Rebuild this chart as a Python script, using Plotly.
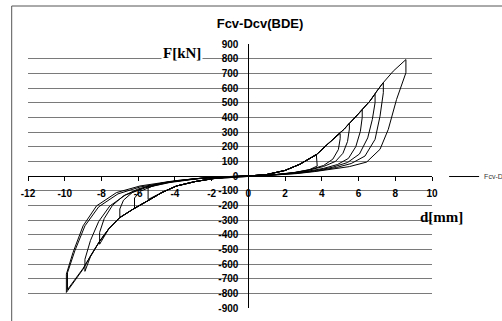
import plotly.graph_objects as go

# ---- data (displacement d [mm], force F [kN]) ----
cycle1_d = [0, 1.0, 2.0, 2.8, 3.7, 3.75, 3.3, 2.5, 1.5, 0.6, 0,
            -1.0, -1.92, -2.9, -3.91, -4.7, -5.46, -5.46, -4.8, -3.8, -2.4, -1.2, 0]
cycle1_f = [0, 10, 38, 80, 148, 68, 42, 22, 9, 2, 0,
            -6, -18, -38, -68, -112, -160, -79, -52, -30, -13, -4, 0]

cycle2_d = [0, 1.0, 2.0, 2.8, 3.7, 4.6, 5.0, 5.0, 4.9, 4.6, 4.1, 3.4, 2.5, 1.5, 0.6, 0,
            -1.0, -1.92, -2.9, -3.91, -4.7, -5.46, -6.2, -6.2, -5.9, -5.2, -4.2, -2.7, -1.3, 0]
cycle2_f = [0, 10, 38, 80, 145, 250, 290, 255, 180, 115, 72, 45, 24, 10, 2, 0,
            -6, -18, -38, -68, -112, -168, -222, -150, -105, -68, -40, -17, -5, 0]

cycle3_d = [0, 1.0, 2.0, 2.8, 3.7, 4.6, 5.2, 5.5, 5.5, 5.4, 5.15, 4.75, 4.1, 3.3, 2.4, 1.4, 0.6, 0,
            -1.0, -1.92, -2.9, -3.91, -4.7, -5.46, -6.2, -7.0, -7.0, -6.8, -6.3, -5.6, -4.5, -2.9, -1.4, 0]
cycle3_f = [0, 10, 38, 80, 145, 250, 318, 360, 320, 235, 155, 100, 65, 40, 21, 8, 2, 0,
            -6, -18, -38, -68, -112, -168, -220, -285, -225, -165, -110, -75, -43, -19, -6, 0]

cycle4_d = [0, 1.0, 2.0, 2.8, 3.7, 4.6, 5.2, 5.71, 6.2, 6.2, 6.1, 5.85, 5.45, 4.85, 4.1, 3.2, 2.3, 1.3, 0.5, 0,
            -1.0, -1.92, -2.9, -3.91, -4.7, -5.46, -6.2, -7.0, -7.6, -8.1, -8.1, -7.85, -7.4, -6.8, -6.0, -4.8, -3.1, -1.5, 0]
cycle4_f = [0, 10, 38, 80, 145, 250, 318, 386, 450, 400, 305, 200, 120, 78, 52, 32, 18, 7, 1, 0,
            -6, -18, -38, -68, -112, -168, -220, -283, -360, -465, -385, -290, -200, -135, -88, -50, -21, -6, 0]

cycle5_d = [0, 1.0, 2.0, 2.8, 3.7, 4.6, 5.2, 5.71, 6.62, 6.9, 6.9, 6.75, 6.5, 6.05, 5.4, 4.6, 3.7, 2.7, 1.6, 0.6, 0,
            -1.0, -1.92, -2.9, -3.91, -4.7, -5.46, -6.2, -7.0, -7.6, -8.1, -8.6, -8.9, -8.9, -8.6, -8.15, -7.55, -6.7, -5.6, -4.3, -2.8, -1.4, 0]
cycle5_f = [0, 10, 38, 80, 145, 250, 318, 386, 511, 560, 500, 385, 260, 150, 92, 60, 38, 21, 9, 2, 0,
            -6, -18, -38, -68, -112, -168, -220, -283, -360, -445, -550, -650, -568, -440, -310, -205, -130, -80, -45, -19, -6, 0]

cycle6_d = [0, 1.0, 2.0, 2.8, 3.7, 4.6, 5.2, 5.71, 6.62, 7.0, 7.35, 7.35, 7.17, 6.9, 6.35, 5.6, 4.8, 3.8, 2.7, 1.6, 0.6, 0,
            -1.0, -1.92, -2.9, -3.91, -4.7, -5.46, -6.2, -7.0, -7.6, -8.1, -8.6, -9.0, -9.5, -9.85, -9.85, -9.45, -8.9, -8.15, -7.1, -5.9, -4.3, -2.7, -1.3, 0]
cycle6_f = [0, 10, 38, 80, 145, 250, 318, 386, 511, 580, 636, 568, 408, 250, 136, 85, 58, 36, 19, 8, 2, 0,
            -6, -18, -38, -68, -112, -168, -220, -283, -360, -445, -545, -630, -715, -775, -660, -510, -340, -210, -122, -75, -40, -17, -5, 0]

cycle7_d = [0, 1.0, 2.0, 2.8, 3.7, 4.6, 5.2, 5.71, 6.62, 7.26, 7.89, 8.58, 8.58, 8.07, 7.62, 7.17, 6.44, 5.5, 4.6, 3.6, 2.6, 1.5, 0.6, 0,
            -1.0, -1.92, -2.9, -3.91, -4.7, -5.46, -6.2, -7.0, -7.6, -8.1, -8.6, -9.0, -9.55, -9.91, -9.91, -9.55, -9.0, -8.27, -7.18, -5.9, -4.1, -2.5, -1.2, 0]
cycle7_f = [0, 10, 38, 80, 145, 250, 318, 386, 511, 624, 715, 794, 704, 522, 318, 182, 95, 64, 46, 30, 16, 7, 2, 0,
            -6, -18, -38, -68, -112, -168, -220, -283, -360, -445, -545, -635, -726, -794, -669, -522, -340, -204, -113, -68, -34, -14, -4, 0]

x_tick_vals = [-12, -10, -8, -6, -4, -2, 0, 2, 4, 6, 8, 10]
x_tick_text = ["-12", "-10", "-8", "-6", "-4", "-2", "0", "2", "4", "6", "8", "10"]
y_tick_vals = [-900, -800, -700, -600, -500, -400, -300, -200, -100, 0,
               100, 200, 300, 400, 500, 600, 700, 800, 900]
y_tick_text = ["-900", "-800", "-700", "-600", "-500", "-400", "-300", "-200", "-100", "0",
               "100", "200", "300", "400", "500", "600", "700", "800", "900"]

series_name = "Fcv-Dcv"
chart_title = "Fcv-Dcv(BDE)"

d_all = cycle1_d + cycle2_d + cycle3_d + cycle4_d + cycle5_d + cycle6_d + cycle7_d
f_all = cycle1_f + cycle2_f + cycle3_f + cycle4_f + cycle5_f + cycle6_f + cycle7_f

fig = go.Figure()
fig.add_trace(go.Scatter(x=d_all, y=f_all, mode="lines", name=series_name,
                         showlegend=True,
                         line=dict(color="black", width=1)))

tick_font = dict(family="Liberation Sans, Arial", size=10, color="black", weight="bold")

fig.update_layout(
    width=502, height=321,
    margin=dict(l=28, r=70, t=44, b=13, autoexpand=False),
    paper_bgcolor="white", plot_bgcolor="white",
    title=dict(text=chart_title, x=0.518, xref="container", xanchor="center",
               y=1 - 23 / 321, yref="container", yanchor="middle",
               font=dict(family="Liberation Sans, Arial", size=13, color="black", weight="bold")),
    xaxis=dict(range=[-12, 10], tickvals=x_tick_vals, ticktext=x_tick_text,
               showgrid=False, zeroline=False, showline=True, linecolor="black", linewidth=1,
               anchor="free", position=0.5, ticks="outside", ticklen=4, tickcolor="black",
               tickfont=tick_font, ticklabelstandoff=4),
    yaxis=dict(range=[-900, 900], tickvals=y_tick_vals, ticktext=y_tick_text,
               showgrid=True, gridcolor="#7a7a7a", gridwidth=1, zeroline=False,
               showline=True, linecolor="black", linewidth=1,
               anchor="free", position=12 / 22, ticks="", tickfont=tick_font,
               ticklabelstandoff=8),
    legend=dict(x=1.03, y=0.498, xanchor="left", yanchor="middle", xref="paper", yref="paper",
                font=dict(family="Liberation Sans, Arial", size=7, color="#333333"),
                bgcolor="rgba(0,0,0,0)", itemwidth=30),
    shapes=[dict(type="rect", xref="paper", yref="paper",
                 x0=(11.7 - 28) / 404, x1=1.3, y0=-0.2, y1=(308 - 6) / 264,
                 line=dict(color="#555555", width=1), layer="below")],
    annotations=[
        dict(text="F[kN]", xref="paper", yref="paper", x=(182 - 28) / 404, y=(308 - 43) / 264,
             showarrow=False, bgcolor="white", borderpad=1,
             font=dict(family="Liberation Serif, Times New Roman", size=15, color="black", weight="bold")),
        dict(text="d[mm]", xref="paper", yref="paper", x=(465 - 28) / 404, y=(308 - 217) / 264,
             showarrow=False,
             font=dict(family="Liberation Serif, Times New Roman", size=15, color="black", weight="bold")),
    ],
)

fig.write_html("out.html",
               config={"displayModeBar": False},
               post_script="document.body.style.margin='0';document.body.style.overflow='hidden';")
